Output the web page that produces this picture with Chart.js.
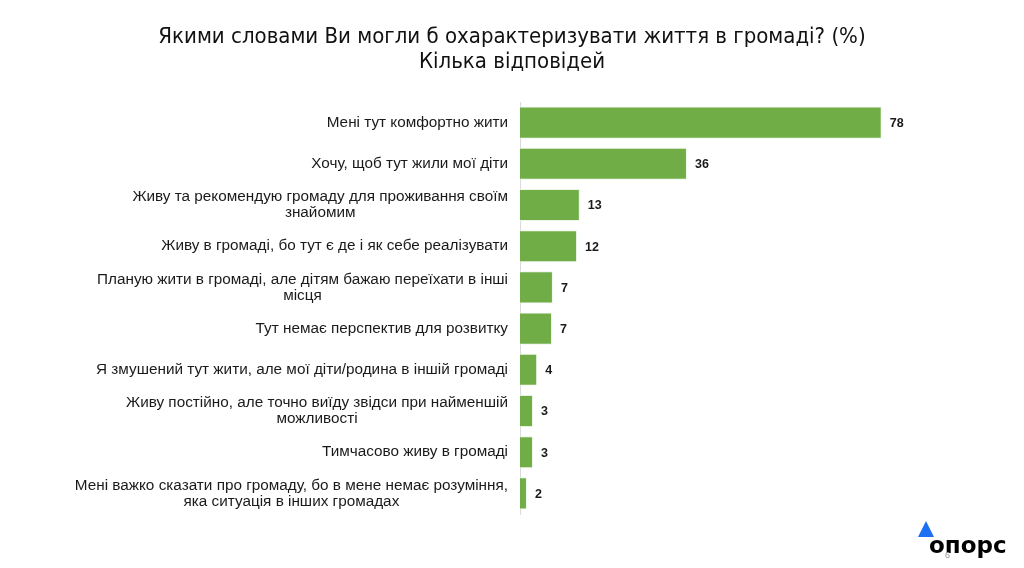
<!DOCTYPE html>
<html>
<head>
<meta charset="utf-8">
<script src="https://cdn.jsdelivr.net/npm/chart.js@4"></script>
<style>
  html, body { margin: 0; padding: 0; background: #fff; }
  #wrap { position: relative; width: 1024px; height: 568px; }
</style>
</head>
<body>
<div id="wrap"><canvas id="chart" width="1024" height="568"></canvas></div>
<script>
// Категорії (підписи осі)
const categories = [
  'Мені тут комфортно жити',
  'Хочу, щоб тут жили мої діти',
  ['Живу та рекомендую громаду для проживання своїм', 'знайомим'],
  'Живу в громаді, бо тут є де і як себе реалізувати',
  ['Планую жити в громаді, але дітям бажаю переїхати в інші', 'місця'],
  'Тут немає перспектив для розвитку',
  'Я змушений тут жити, але мої діти/родина в іншій громаді',
  ['Живу постійно, але точно виїду звідси при найменшій', 'можливості'],
  'Тимчасово живу в громаді',
  ['Мені важко сказати про громаду, бо в мене немає розуміння,', 'яка ситуація в інших громадах']
];

// Довжини стовпців (оцінка з картинки) та підписи значень
const values = [78, 36, 12.9, 12.3, 7.1, 6.9, 3.7, 2.8, 2.8, 1.5];
const valueLabels = ['78', '36', '13', '12', '7', '7', '4', '3', '3', '2'];

const titleLines = [
  'Якими словами Ви могли б охарактеризувати життя в громаді? (%)',
  'Кілька відповідей'
];

/**
 * Заголовок по центру сторінки
 */
const titlePlugin = {
  id: 'pageTitle',
  afterDraw(chart) {
    const { ctx } = chart;
    ctx.save();
    ctx.fillStyle = '#111';
    ctx.font = '22px "Liberation Sans Narrow", "DejaVu Sans Condensed", sans-serif';
    ctx.textAlign = 'center';
    ctx.textBaseline = 'middle';
    titleLines.forEach((line, i) => ctx.fillText(line, 512, 37 + i * 25));
    ctx.restore();
  }
};

/**
 * Підписи категорій: блок вирівняний праворуч, рядки по центру блоку
 */
const categoryLabelPlugin = {
  id: 'categoryLabels',
  afterDraw(chart) {
    const { ctx } = chart;
    const yScale = chart.scales.y;
    ctx.save();
    ctx.fillStyle = '#1a1a1a';
    ctx.font = '15.3px "Liberation Sans", Arial, sans-serif';
    ctx.textAlign = 'center';
    ctx.textBaseline = 'middle';
    categories.forEach((label, i) => {
      const lines = Array.isArray(label) ? label : [label];
      const maxW = Math.max(...lines.map(l => ctx.measureText(l).width));
      const cx = 508 - maxW / 2;
      const cy = yScale.getPixelForValue(i);
      const lh = 16;
      lines.forEach((l, j) => {
        ctx.fillText(l, cx, cy + (j - (lines.length - 1) / 2) * lh);
      });
    });
    ctx.restore();
  }
};

/**
 * Підписи значень праворуч від стовпців
 */
const valueLabelPlugin = {
  id: 'valueLabels',
  afterDatasetsDraw(chart) {
    const { ctx } = chart;
    const meta = chart.getDatasetMeta(0);
    ctx.save();
    ctx.font = 'bold 12.5px "Liberation Sans", Arial, sans-serif';
    ctx.fillStyle = '#1a1a1a';
    ctx.textAlign = 'left';
    ctx.textBaseline = 'middle';
    meta.data.forEach((bar, i) => {
      ctx.fillText(valueLabels[i], bar.x + 8, bar.y + 1);
    });
    ctx.restore();
  }
};

/**
 * Логотип у правому нижньому куті
 */
const logoPlugin = {
  id: 'logo',
  afterDraw(chart) {
    const { ctx } = chart;
    ctx.save();
    ctx.fillStyle = '#1e6ff2';
    ctx.beginPath();
    ctx.moveTo(926, 521);
    ctx.lineTo(934, 537);
    ctx.lineTo(918, 537);
    ctx.closePath();
    ctx.fill();
    ctx.fillStyle = '#000';
    ctx.font = 'bold 23px "DejaVu Sans", sans-serif';
    ctx.textBaseline = 'alphabetic';
    ctx.textAlign = 'left';
    ctx.fillText('опорс', 929, 553);
    ctx.fillStyle = '#9a9a9a';
    ctx.font = '9px "Liberation Sans", Arial, sans-serif';
    ctx.fillText('6', 945, 558);
    ctx.restore();
  }
};

new Chart(document.getElementById('chart'), {
  type: 'bar',
  data: {
    labels: categories,
    datasets: [{
      data: values,
      backgroundColor: '#70ad47',
      borderColor: 'rgba(235, 245, 228, 0.9)',
      borderWidth: 1,
      barPercentage: 0.78,
      categoryPercentage: 1
    }]
  },
  options: {
    indexAxis: 'y',
    responsive: false,
    animation: false,
    layout: {
      padding: { left: 0, right: 133, top: 102, bottom: 54 }
    },
    plugins: {
      legend: { display: false },
      tooltip: { enabled: false },
      title: { display: false }
    },
    scales: {
      x: {
        display: false,
        min: 0,
        max: 80
      },
      y: {
        afterFit(scale) { scale.width = 520; },
        grid: { display: false, drawTicks: false },
        border: { display: true, color: '#d9d9d9', width: 1 },
        ticks: { display: false }
      }
    }
  },
  plugins: [titlePlugin, categoryLabelPlugin, valueLabelPlugin, logoPlugin]
});
</script>
</body>
</html>
